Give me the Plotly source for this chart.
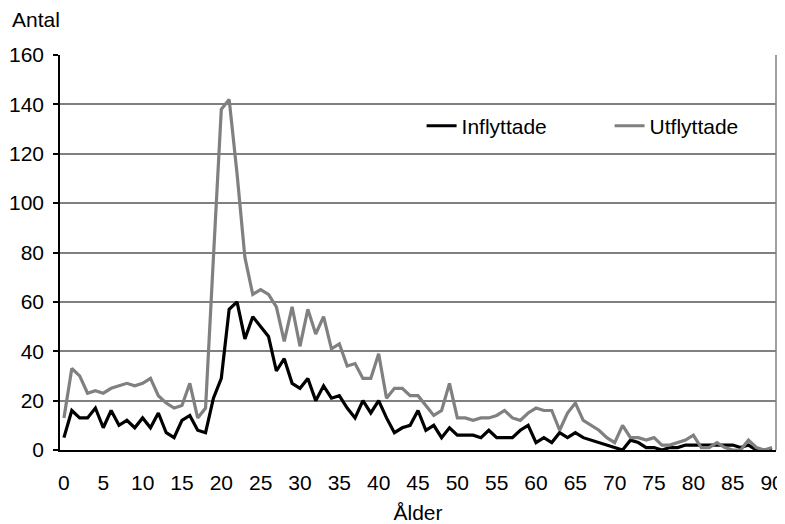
import plotly.graph_objects as go

ages = list(range(0, 91))

inflyttade = [5, 16, 13, 13, 17, 9, 16, 10, 12, 9,
              13, 9, 15, 7, 5, 12, 14, 8, 7, 21,
              29, 57, 60, 45, 54, 50, 46, 32, 37, 27,
              25, 29, 20, 26, 21, 22, 17, 13, 20, 15,
              20, 13, 7, 9, 10, 16, 8, 10, 5, 9,
              6, 6, 6, 5, 8, 5, 5, 5, 8, 10,
              3, 5, 3, 7, 5, 7, 5, 4, 3, 2,
              1, 0, 4, 3, 1, 1, 0, 1, 1, 2,
              2, 2, 2, 2, 2, 2, 1, 2, 0, 0,
              0]

utflyttade = [13, 33, 30, 23, 24, 23, 25, 26, 27, 26,
              27, 29, 22, 19, 17, 18, 27, 13, 17, 78,
              138, 142, 112, 78, 63, 65, 63, 58, 44, 58,
              42, 57, 47, 54, 41, 43, 34, 35, 29, 29,
              39, 21, 25, 25, 22, 22, 18, 14, 16, 27,
              13, 13, 12, 13, 13, 14, 16, 13, 12, 15,
              17, 16, 16, 8, 15, 19, 12, 10, 8, 5,
              3, 10, 5, 5, 4, 5, 2, 2, 3, 4,
              6, 1, 1, 3, 1, 0, 0, 4, 1, 0,
              1]

x_tick_vals = list(range(0, 91, 5))
x_tick_text = [str(v) for v in x_tick_vals]
x_boundary_ticks = [v - 0.5 for v in range(0, 91, 5)]
y_tick_vals = list(range(0, 161, 20))

FONT = "Liberation Sans, Arial, sans-serif"
FS = 21

fig = go.Figure()
fig.add_trace(go.Scatter(x=ages, y=inflyttade, mode="lines", name="Inflyttade",
                         line=dict(color="#000000", width=3.2)))
fig.add_trace(go.Scatter(x=ages, y=utflyttade, mode="lines", name="Utflyttade",
                         line=dict(color="#808080", width=3.2)))

fig.update_layout(
    width=777, height=516,
    margin=dict(l=52, r=9, t=47, b=74, autoexpand=False),
    paper_bgcolor="white", plot_bgcolor="white",
    font=dict(family=FONT, size=FS, color="#000000"),
    showlegend=True,
    legend=dict(orientation="h", x=0.505, y=0.82, xanchor="left", yanchor="middle",
                bgcolor="rgba(0,0,0,0)", font=dict(size=FS),
                entrywidth=143, entrywidthmode="pixels",
                traceorder="normal"),
    xaxis=dict(range=[-0.5, 90.5], tickvals=x_tick_vals, ticktext=x_tick_text,
               ticks="outside", ticklen=5, tickcolor="rgba(0,0,0,0)",
               ticklabelstandoff=8, automargin=False,
               showline=True, linecolor="#000000", linewidth=1.5,
               showgrid=False, zeroline=False,
               title=dict(text="Ålder", standoff=13, font=dict(size=FS))),
    xaxis2=dict(range=[-0.5, 90.5], overlaying="x", anchor="y", side="bottom",
                tickvals=x_boundary_ticks, ticks="outside", ticklen=5,
                tickcolor="#000000", tickwidth=1.5, showticklabels=False,
                showline=False, showgrid=False, zeroline=False, automargin=False),
    yaxis=dict(range=[0, 160], tickvals=y_tick_vals, ticks="outside", ticklen=5,
               tickcolor="#000000", tickwidth=1.5, ticklabelstandoff=5,
               automargin=False,
               showline=True, linecolor="#000000", linewidth=1.5,
               showgrid=True, gridcolor="#808080", gridwidth=1.5,
               zeroline=False),
    shapes=[dict(type="line", xref="paper", yref="paper", x0=1, x1=1, y0=0, y1=1,
                 line=dict(color="#808080", width=1.5))],
    annotations=[dict(text="Antal", xref="paper", yref="paper", x=-0.07, y=1.089,
                      xanchor="left", yanchor="middle", showarrow=False,
                      font=dict(size=FS))],
)

fig.write_html("out.html")
